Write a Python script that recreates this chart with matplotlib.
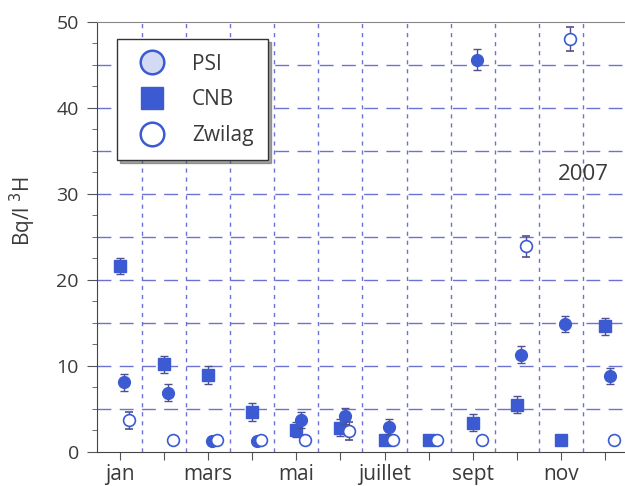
import numpy as np
import matplotlib
matplotlib.use("Agg")
import matplotlib.pyplot as plt
from matplotlib.lines import Line2D

# Tritium in precipitation 2007 (Bq/l), monthly values
months = np.arange(1, 13)
month_labels = ["jan", "", "mars", "", "mai", "", "juillet", "", "sept", "", "nov", ""]

psi = [8.1, 6.9, 1.3, 1.3, 3.7, 4.2, 2.95, np.nan, 45.6, 11.3, 14.85, 8.8]
psi_err = [1.0, 1.0, 0, 0, 0.9, 0.9, 0.9, 0, 1.2, 1.0, 0.95, 0.95]

cnb = [21.6, 10.2, 8.95, 4.65, 2.6, 2.8, 1.4, 1.4, 3.4, 5.5, 1.4, 14.6]
cnb_err = [0.9, 1.0, 1.0, 1.0, 0.9, 1.0, 0, 0, 1.0, 0.95, 0, 0.95]

zwilag = [3.7, 1.4, 1.4, 1.4, 1.4, 2.4, 1.4, 1.4, 1.4, 23.9, 48.0, 1.4]
zwilag_err = [1.0, 0, 0, 0, 0, 1.05, 0, 0, 0, 1.2, 1.4, 0]

blue = "#3c5bd2"
errc = "#50508a"
gridc = "#6b72d2"
txt = "#3a3a3a"

plt.rcParams["font.family"] = ["Open Sans", "DejaVu Sans"]

fig = plt.figure(figsize=(6.25, 4.86), dpi=100)
ax = fig.add_axes([0.155, 0.07, 0.845, 0.885])

# grid: horizontal every 5, vertical at month boundaries
for v in np.arange(5, 50, 5):
    ax.axhline(v, color=gridc, lw=1.0, dashes=(10, 6), zorder=0)
for b in np.arange(1.5, 12.5, 1):
    ax.axvline(b, color=gridc, lw=1.0, dashes=(3, 3.5), zorder=0)

ekw = dict(ecolor=errc, elinewidth=1.0, capsize=3, capthick=1.0, linestyle="none")

ax.errorbar(months, cnb, yerr=cnb_err, marker="s", ms=8, mfc=blue, mec=blue, zorder=3, **ekw)
ax.errorbar(months + 0.1, psi, yerr=psi_err, marker="o", ms=8.5, mfc=blue, mec=blue, zorder=4, **ekw)
ax.errorbar(months + 0.2, zwilag, yerr=zwilag_err, marker="o", ms=8.5, mfc="white", mec=blue,
            mew=1.2, zorder=5, **ekw)

ax.set_xlim(0.48, 12.45)
ax.set_ylim(0, 50)

ax.set_xticks(months)
ax.set_xticklabels(month_labels, fontsize=15, color=txt)
ax.set_yticks(np.arange(0, 51, 10))
ax.set_yticks(np.arange(0, 50.1, 2.5), minor=True)
ax.tick_params(axis="y", which="major", length=7, color="#555555", labelsize=14, labelcolor=txt, pad=6)
ax.tick_params(axis="y", which="minor", length=3.5, color="#555555")
ax.tick_params(axis="x", length=6, color="#555555", pad=3)

for s in ["left", "bottom"]:
    ax.spines[s].set_color("#444444")
ax.spines["top"].set_color("#888888")
ax.spines["right"].set_visible(False)

ax.set_ylabel("Bq/l $^{3}$H", fontsize=15, color=txt)
ax.yaxis.set_label_coords(-0.112, 0.56)

ax.text(11.5, 32.2, "2007", fontsize=16, color=txt, ha="center", va="center")

handles = [
    Line2D([], [], ls="none", marker="o", ms=17, mfc="#d3daf3", mec=blue, mew=1.8),
    Line2D([], [], ls="none", marker="s", ms=16, mfc=blue, mec=blue),
    Line2D([], [], ls="none", marker="o", ms=17, mfc="white", mec=blue, mew=1.8),
]
leg = ax.legend(handles, ["PSI", "CNB", "Zwilag"], loc="upper left", bbox_to_anchor=(0.038, 0.96),
                borderaxespad=0, fontsize=15, frameon=True, fancybox=False, shadow=True,
                labelspacing=0.7, handletextpad=0.9, borderpad=0.7, labelcolor=txt)
leg.get_frame().set_edgecolor("#333333")
leg.get_frame().set_linewidth(1.0)
leg.set_zorder(10)

fig.savefig("out.png", dpi=100)
